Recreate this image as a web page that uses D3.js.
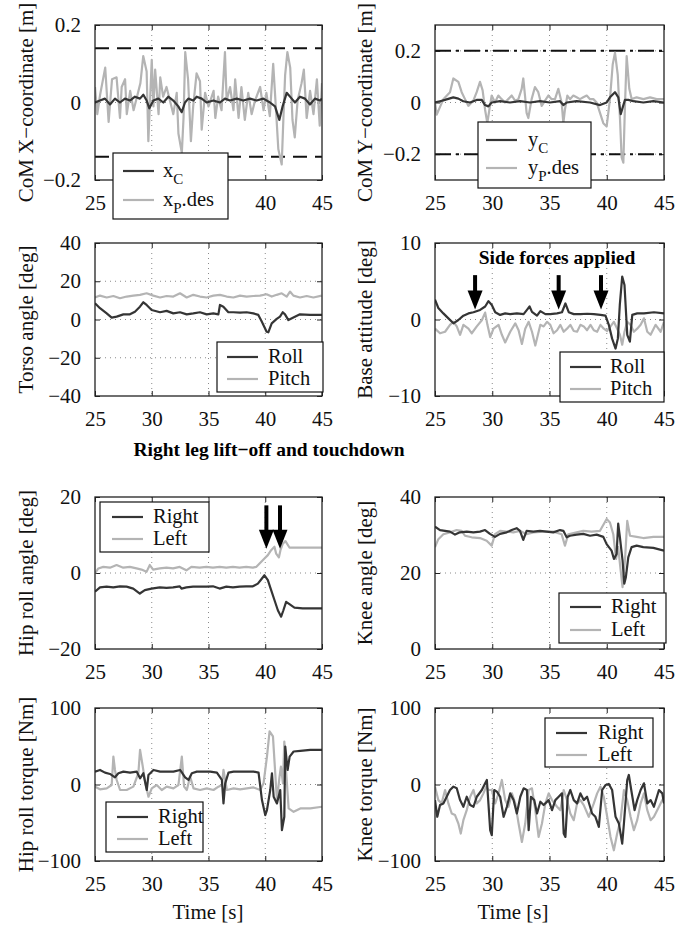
<!DOCTYPE html>
<html>
<head>
<meta charset="utf-8">
<script src="https://cdn.jsdelivr.net/npm/d3@7"></script>
<style>
  body { margin: 0; background: #fff; }
  text { font-family: "Liberation Serif", "Times New Roman", serif; }
</style>
</head>
<body>
<svg id="fig"></svg>
<script>
// ---- data (time [s], value) ----
const timeTicks = [25, 30, 35, 40, 45];

const comXC = [[25,0],[25.44,0.005],[25.88,0.01],[26.32,-0.005],[26.76,0.01],[27.2,0],[27.64,0.01],[28.08,0.005],[28.52,0.015],[28.96,0.01],[29.26,0.02],[29.55,0.005],[29.79,-0.015],[30.14,0.005],[30.58,0.01],[31.02,0],[31.46,0.015],[31.9,0.005],[32.34,-0.01],[32.64,-0.025],[32.93,0],[33.22,0.01],[33.66,0.005],[33.96,0.015],[34.4,0.01],[34.84,0],[35.43,0.005],[36.01,0],[36.45,0.01],[36.89,0.005],[37.48,0.01],[38.07,0.005],[38.66,0.01],[39.24,0.005],[39.83,0.01],[40.42,0],[40.86,-0.01],[41.24,-0.045],[41.53,-0.01],[41.89,0.025],[42.33,0.01],[42.62,0],[43.06,0.015],[43.5,0.01],[43.94,-0.005],[44.38,0.01],[44.82,0.005],[45,0.01]];
const comXP = [[25,0.04],[25.2,-0.03],[25.45,0.02],[25.9,0.09],[26.2,-0.05],[26.5,0.06],[26.9,0.065],[27.2,-0.04],[27.35,0.04],[27.65,0.06],[27.8,-0.03],[28.1,0.03],[28.4,-0.02],[28.7,0.015],[29,0.05],[29.25,0.12],[29.55,0.08],[29.7,-0.1],[30,0.11],[30.15,-0.01],[30.3,0.085],[30.6,-0.03],[30.75,0.065],[31,0.015],[31.3,0.04],[31.6,0.005],[31.9,-0.03],[32.2,0.025],[32.35,-0.08],[32.65,-0.13],[32.8,-0.04],[32.95,0.13],[33.2,0.06],[33.45,-0.1],[33.65,-0.01],[33.95,0.075],[34.25,0.055],[34.4,-0.07],[34.7,0.025],[35,-0.01],[35.45,0.03],[35.6,-0.04],[35.85,0.015],[36.15,-0.02],[36.45,0.13],[36.6,0.005],[36.9,0.04],[37.2,-0.02],[37.35,0.06],[37.65,-0.04],[37.9,0.04],[38.2,-0.045],[38.5,0.025],[38.8,-0.03],[39.1,0.005],[39.55,0.04],[39.85,-0.02],[40.1,0.025],[40.4,-0.035],[40.7,0.1],[40.95,-0.02],[41.15,-0.12],[41.45,-0.16],[41.6,-0.04],[41.75,0.07],[41.95,0.13],[42.2,0.09],[42.4,-0.045],[42.6,-0.09],[42.85,0.005],[43.2,0.05],[43.4,0.085],[43.65,-0.04],[43.95,0.03],[44.25,-0.03],[44.55,0.06],[44.8,-0.06],[45,0.05]];
const comXLimits = [-0.14, 0.14];

const comYC = [[25,0],[25.44,0.005],[25.87,0.01],[26.6,0.02],[27.04,0.015],[27.47,0.005],[28.06,0],[28.64,0.01],[29.08,0.01],[29.37,-0.01],[29.66,-0.015],[29.95,0],[30.68,0.005],[31.55,0],[32.42,0.005],[33.3,0],[34.17,0.005],[35.04,0],[35.92,0.005],[36.21,-0.01],[36.5,0],[37.37,0.005],[38.54,0],[39.41,-0.01],[39.99,0],[40.28,0.02],[40.72,0.04],[41.01,0.02],[41.22,-0.045],[41.59,0.01],[41.89,0.01],[42.32,0.005],[43.2,0],[44.07,0.005],[45,0]];
const comYP = [[25,0],[25.15,-0.047],[25.73,0.013],[26.31,0.04],[26.6,0.093],[27.04,0.08],[27.33,0.04],[27.62,0.013],[27.91,-0.013],[28.35,0.007],[28.64,0.04],[28.93,0.08],[29.16,0.047],[29.37,-0.027],[29.57,-0.08],[29.8,-0.013],[29.95,0.027],[30.24,0],[30.53,0.027],[30.82,0.013],[31.11,0],[31.4,0.013],[31.7,0.027],[31.99,0.007],[32.28,0.013],[32.57,0.053],[32.71,0.093],[32.86,0.027],[33,-0.04],[33.15,-0.06],[33.44,0.013],[33.73,0.06],[34.02,0.04],[34.32,-0.013],[34.61,0.007],[34.9,0.027],[35.19,0.013],[35.48,0.013],[35.77,0.053],[36.06,0],[36.21,-0.08],[36.35,-0.027],[36.56,0.027],[36.79,0.013],[37.08,0.027],[37.37,0.02],[37.66,0.013],[37.95,0.02],[38.25,0.027],[38.54,0.013],[38.83,0.013],[39.12,0],[39.41,-0.04],[39.7,-0.08],[39.99,-0.093],[40.28,0.013],[40.52,0.147],[40.72,0.193],[40.96,0.107],[41.16,-0.067],[41.3,-0.213],[41.45,-0.233],[41.59,-0.013],[41.74,0.18],[41.97,0.053],[42.18,0.013],[42.61,0.02],[43.2,0.013],[43.78,0.02],[44.36,0.013],[45,0.013]];
const comYLimits = [-0.2, 0.2];

const torsoRoll = [[25,8.5],[25.44,5.9],[26.03,3.2],[26.47,1],[26.91,1.5],[27.5,2.7],[28.08,2.7],[28.52,4.1],[28.96,6.7],[29.26,9],[29.55,7.6],[29.99,5],[30.73,3.8],[31.31,4.5],[31.9,3.2],[32.49,3.8],[33.08,2.7],[33.66,3.2],[34.25,3.8],[34.84,2.7],[35.43,3.2],[35.87,2.7],[36.01,7.6],[36.31,6.7],[36.75,3.8],[37.19,3.8],[37.78,3.6],[38.36,3.8],[38.95,3.2],[39.39,2.4],[39.69,-1.1],[40.12,-6.4],[40.27,-6.7],[40.57,-2],[41.01,0.3],[41.3,1.5],[41.54,3.8],[41.74,2.7],[42.04,-0.3],[42.48,1],[43.06,2.7],[43.94,2.4],[45,2.4]];
const torsoPitch = [[25,11.5],[25.44,12.5],[26.03,11.5],[26.62,12.3],[27.2,11.1],[27.79,12],[28.38,12.5],[28.96,12.9],[29.55,13.7],[30.14,12.5],[30.73,11.5],[31.31,12.3],[31.9,12],[32.49,13.7],[33.08,11.5],[33.66,12.9],[34.25,12],[34.84,11.5],[35.43,12.5],[36.01,12.9],[36.6,12],[37.19,11.5],[37.78,12.5],[38.36,12],[38.95,12.3],[39.54,12.5],[40.12,13.2],[40.57,12],[41.01,12.9],[41.45,13.7],[41.89,12],[42.18,14.6],[42.48,12.5],[43.06,11.5],[43.65,12.3],[44.24,11.5],[44.97,12.5]];

const baseRoll = [[25,2.6],[25.29,1.5],[25.73,0.8],[26.17,0.15],[26.61,-0.5],[27.04,-0.07],[27.48,0.5],[27.92,0.8],[28.36,0.95],[28.94,1.25],[29.38,1.7],[29.67,2.4],[29.96,1.9],[30.26,0.95],[30.69,0.6],[31.13,0.8],[31.57,0.7],[32.15,0.8],[32.74,0.7],[33.03,1.25],[33.26,1.7],[33.47,1],[33.91,0.5],[34.2,1.1],[34.64,0.7],[35.07,0.7],[35.66,0.8],[36.09,0.95],[36.39,2.1],[36.68,0.95],[37.12,0.7],[37.7,0.7],[38.29,0.75],[38.87,0.7],[39.45,0.6],[39.89,0.5],[40.18,-0.7],[40.47,-2.5],[40.77,-3.8],[40.97,-2.5],[41.14,1.9],[41.35,5.6],[41.55,4.5],[41.79,-2],[42.02,-2.9],[42.23,0.6],[42.66,0.8],[43.25,0.8],[44.12,0.95],[45,0.8]];
const basePitch = [[25,-1.2],[25.44,-1.8],[25.88,-1.6],[26.31,-0.7],[26.61,-0.3],[26.9,-0.9],[27.19,-2],[27.48,-0.7],[27.92,-1.2],[28.21,-1.8],[28.65,-0.9],[29.09,-0.1],[29.38,0.9],[29.58,-0.7],[29.82,-2.3],[30.11,-1.2],[30.55,-0.7],[30.84,-2],[31.13,-3],[31.57,-1.6],[32.01,-0.5],[32.3,-1.4],[32.59,-3.2],[32.88,-1.2],[33.18,-0.3],[33.47,-1.6],[33.76,-3.4],[34.2,-0.7],[34.49,-0.9],[34.78,-0.3],[35.07,-0.7],[35.36,-1.8],[35.66,-1.4],[35.95,-0.7],[36.24,-1.6],[36.53,-1.2],[36.82,-0.7],[37.12,-1.5],[37.41,-1.6],[37.7,-0.7],[37.99,-0.9],[38.28,-1.4],[38.58,-0.7],[38.87,-1.4],[39.16,-1.6],[39.45,-0.7],[39.74,-1.2],[40.04,-1.5],[40.33,-0.9],[40.62,-0.3],[40.91,-1.2],[41.15,-2],[41.35,-3.3],[41.55,-1.6],[41.79,-0.3],[42.08,-0.7],[42.37,-1.6],[42.66,-1.2],[42.96,-0.7],[43.25,0.15],[43.54,-1.6],[43.83,-2],[44.27,-0.7],[44.71,-1.6],[45,-0.3]];
const sideForceTimes = [28.5, 35.8, 39.5];
const sideForceArrow = [5.8, 1.3];   // from, to [deg]

const hipRight = [[25,-4.9],[25.44,-3.8],[26.02,-3.6],[26.61,-3.8],[27.2,-3.5],[27.78,-3.6],[28.37,-4.1],[28.95,-5.4],[29.39,-4.5],[29.98,-4.1],[30.71,-3.8],[31.3,-3.9],[31.88,-3.8],[32.47,-3.5],[32.62,-4.1],[33.05,-3.8],[33.64,-3.6],[34.22,-3.6],[34.81,-3.6],[35.39,-3.5],[35.98,-4.1],[36.57,-3.6],[37.15,-3.8],[37.74,-3.6],[38.32,-3.5],[38.91,-3.5],[39.35,-2.8],[39.64,-1.7],[39.93,-0.6],[40.23,-1.9],[40.52,-4.5],[40.81,-7.1],[41.11,-9.8],[41.4,-11.5],[41.6,-9.8],[41.84,-7.6],[42.13,-8.2],[42.57,-9.1],[43.3,-9.3],[44.18,-9.3],[45,-9.3]];
const hipLeft = [[25,-0.1],[25.29,1.2],[25.73,1.6],[26.32,1.4],[26.9,2.1],[27.49,1.4],[28.07,1.6],[28.66,1.2],[29.1,0.9],[29.54,0.3],[29.83,2.1],[30.12,0.9],[30.71,1.2],[31.3,1.4],[31.88,1.2],[32.47,1.6],[33.05,0.7],[33.49,1.6],[34.22,1.4],[34.81,1.6],[35.39,1.4],[35.98,1.6],[36.57,1.4],[37.15,1.6],[37.74,1.4],[38.32,1.6],[38.91,1.4],[39.2,1.6],[39.5,2.5],[39.93,3.8],[40.23,4.7],[40.52,6],[40.81,6.9],[40.96,5.1],[41.2,4.1],[41.34,6],[41.55,7.7],[41.78,8.4],[42.13,6.7],[42.72,6.7],[43.6,6.7],[45,6.7]];
const liftOffTimes = [40.1, 41.3];
const liftOffArrow = [17.8, 6.4];

const kneeRight = [[25,32.2],[25.44,31.3],[25.87,31.1],[26.31,30.9],[26.75,30.1],[27.18,30.7],[27.77,30.9],[28.35,30.7],[28.93,30.9],[29.37,31.3],[29.8,30.3],[30.24,29.5],[30.68,30.3],[31.26,30.7],[31.7,31.3],[32.13,31.8],[32.42,31.1],[32.71,28.7],[33,31.1],[33.59,30.9],[34.17,31.1],[34.75,30.9],[35.33,30.7],[35.92,31.3],[36.21,31.1],[36.5,29.4],[36.79,29.8],[37.37,30.1],[37.95,30.3],[38.54,29.8],[39.12,30.1],[39.7,29.5],[39.99,27.6],[40.42,25.9],[40.63,23.7],[40.86,25],[41,33],[41.15,29.4],[41.38,23.3],[41.53,17.2],[41.67,18.9],[41.88,24.1],[42.17,26.8],[42.61,27.2],[43.19,26.8],[44.07,26.6],[45,25.9]];
const kneeLeft = [[25,26.8],[25.29,28.9],[25.73,30.2],[26.31,30.7],[26.89,31.3],[27.33,31.1],[27.62,29.8],[28.2,29.4],[28.93,29.2],[29.51,28.5],[29.95,27.2],[30.24,30.2],[30.68,31.1],[31.26,30.9],[31.84,30.7],[32.42,31.1],[33,30.2],[33.59,30.7],[34.46,30.9],[35.33,30.9],[36.06,30.2],[36.35,27.2],[36.64,30.2],[37.37,30.7],[37.95,31.1],[38.68,30.9],[39.41,31.1],[39.99,34.2],[40.28,33.3],[40.57,30.2],[40.81,23.7],[41,26.8],[41.2,21.1],[41.38,16.3],[41.59,23.3],[41.79,33.7],[42.03,29.8],[42.61,29.5],[43.19,29.2],[44.07,29.5],[45,29.5]];

const hipTorqueRight = [[25,16.8],[25.44,19],[25.88,15.5],[26.32,13.8],[26.76,9.4],[27.06,14.7],[27.5,16.8],[28.09,15.5],[28.68,16.8],[28.97,8.1],[29.26,14.7],[29.56,-7.2],[29.71,12.5],[30.15,19],[30.74,16.8],[31.32,16.8],[31.91,16.8],[32.5,19],[32.94,9.4],[33.24,5.9],[33.53,14.7],[33.97,16.8],[34.56,16.8],[35.15,16.8],[35.74,15.5],[36.18,5.9],[36.32,-24.7],[36.47,1.5],[36.76,15.5],[37.21,16.8],[37.79,16.8],[38.38,16.8],[38.97,16.8],[39.41,15.5],[39.71,-20.4],[40,-40],[40.15,-33.5],[40.44,-7.2],[40.59,14.7],[40.74,-16],[41.03,-24.7],[41.32,-7.2],[41.47,-59.7],[41.68,-42.2],[41.76,49.7],[41.97,19],[42.15,36.5],[42.5,43.1],[43.09,44],[43.97,45.3],[45,45.3]];
const hipTorqueLeft = [[25,-2.8],[25.44,-6.3],[26.03,-5],[26.47,-0.7],[26.62,36.5],[26.76,19],[26.91,5.9],[27.21,-7.2],[27.79,-7.2],[28.38,-2.8],[28.82,14.7],[28.97,45.3],[29.21,23.4],[29.41,3.7],[29.71,-16],[30,-5],[30.44,-0.7],[30.88,-7.2],[31.32,-2.8],[31.91,-5],[32.35,-0.7],[32.65,36.5],[32.85,-2.8],[33.09,-7.2],[33.38,10.3],[33.68,-5],[34.26,-7.2],[34.85,-5],[35.44,-7.2],[35.88,-2.8],[36.18,-0.7],[36.32,19],[36.62,-7.2],[37.21,-5],[37.79,-6.3],[38.38,-5],[38.97,-3.8],[39.56,-7.2],[39.85,1.5],[40.15,36.5],[40.38,69.4],[40.68,62.8],[40.88,14.7],[41.03,-20.4],[41.26,10.3],[41.38,23.4],[41.56,1.5],[41.68,56.2],[41.85,14.7],[42.06,-31.3],[42.5,-35.7],[43.09,-31.3],[43.97,-31.3],[45,-29.1]];

const kneeTorqueRight = [[25,-20.4],[25.2,-42.2],[25.44,-26.9],[25.73,-24.7],[26.02,-16],[26.31,-7.2],[26.61,-2.8],[26.9,-5],[27.19,-20.4],[27.48,-29.1],[27.77,-16],[28.07,-26.9],[28.36,-29.1],[28.65,-16],[29.09,-7.2],[29.38,1.5],[29.53,5.9],[29.82,-59.7],[29.96,-66.3],[30.17,-7.2],[30.4,-9.4],[30.69,-16],[30.99,-42.2],[31.28,-29.1],[31.57,-11.6],[31.86,-20.4],[32.15,-37.9],[32.45,-16],[32.74,-5],[33.03,-7.2],[33.18,-59.7],[33.38,-16],[33.67,-20.4],[33.91,-37.9],[34.2,-22.5],[34.49,-26.9],[34.93,-20.4],[35.22,-33.5],[35.51,-20.4],[35.8,-16],[36.09,-11.6],[36.24,-64.1],[36.39,-68.5],[36.59,-16],[36.82,-7.2],[37.12,-20.4],[37.41,-24.7],[37.7,-11.6],[37.99,-20.4],[38.28,-16],[38.72,-37.9],[39.01,-42.2],[39.31,-55.4],[39.6,-7.2],[39.89,-0.7],[40.18,0.7],[40.47,-7.2],[40.77,-42.2],[41.06,-51],[41.35,-77.2],[41.5,-51],[41.79,5.9],[41.93,12.5],[42.14,-7.2],[42.43,-33.5],[42.66,-20.4],[42.96,-7.2],[43.25,1.5],[43.54,-24.7],[43.83,-20.4],[44.12,-29.1],[44.56,-7.2],[44.85,-11.6],[45,-24.7]];
const kneeTorqueLeft = [[25,-2.8],[25.29,-20.4],[25.58,-24.7],[25.88,-7.2],[26.17,-24.7],[26.46,-37.9],[26.75,-40],[27.04,-51],[27.25,-64.1],[27.48,-46.6],[27.77,-33.5],[28.07,-16],[28.36,-7.2],[28.65,-24.7],[28.94,-20.4],[29.23,-11.6],[29.47,-2.8],[29.67,-7.2],[29.96,-7.2],[30.26,-24.7],[30.55,-11.6],[30.84,5.9],[31.13,-20.4],[31.42,-29.1],[31.72,-11.6],[32.01,-24.7],[32.3,-51],[32.59,-75.1],[32.88,-51],[33.18,-7.2],[33.47,-5],[33.76,-33.5],[34.05,-68.5],[34.34,-51],[34.64,-24.7],[34.93,-11.6],[35.22,-20.4],[35.66,-29.1],[35.95,-33.5],[36.24,-7.2],[36.53,-20.4],[36.82,-37.9],[37.12,-46.6],[37.41,-24.7],[37.7,-20.4],[37.99,-26.9],[38.43,-42.2],[38.87,-24.7],[39.16,-11.6],[39.45,-2.8],[39.74,-16],[40.04,-42.2],[40.33,-68.5],[40.62,-86],[40.91,-64.1],[41.2,-46.6],[41.5,-7.2],[41.79,-20.4],[42.08,-42.2],[42.37,-59.7],[42.66,-46.6],[42.96,-24.7],[43.25,-11.6],[43.54,-33.5],[43.83,-46.6],[44.12,-42.2],[44.56,-29.1],[45,-16]];

// ---- layout ----
const DARK = "#353535", LIGHT = "#b4b4b4", FONT = "\"Liberation Serif\", \"Times New Roman\", serif";
const cols = [{x0: 95, x1: 322, labelX: 33, timeX: 208}, {x0: 435, x1: 664, labelX: 372, timeX: 513}];
const rows = [{y0: 25, y1: 180}, {y0: 243, y1: 396}, {y0: 497, y1: 649}, {y0: 708, y1: 861}];

const panels = [
  {col: 0, row: 0, yDomain: [-0.2, 0.2], yTicks: [-0.2, 0, 0.2], label: "CoM X\u2212coordinate [m]",
   series: [comXP, comXC], colors: [LIGHT, DARK], limits: comXLimits, limitDash: "14,8",
   hiddenXLabels: [30, 35],   // covered by the legend in the original
   legend: {x: 113, y: 153, w: 115, h: 66, lx: 123, tx: 163, rows: [171, 200], order: [1, 0],
            names: [["x", "C", ""], ["x", "P", ".des"]]}},
  {col: 1, row: 0, yDomain: [-0.3, 0.3], yTicks: [-0.2, 0, 0.2], label: "CoM Y\u2212coordinate [m]",
   series: [comYP, comYC], colors: [LIGHT, DARK], limits: comYLimits, limitDash: "16,5,3,5",
   legend: {x: 478, y: 122, w: 113, h: 66, lx: 486, tx: 528, rows: [140, 168], order: [1, 0],
            names: [["y", "C", ""], ["y", "P", ".des"]]}},
  {col: 0, row: 1, yDomain: [-40, 40], yTicks: [-40, -20, 0, 20, 40], label: "Torso angle [deg]",
   series: [torsoPitch, torsoRoll], colors: [LIGHT, DARK],
   legend: {x: 217, y: 342, w: 106, h: 50, lx: 227, tx: 268, rows: [357, 379], order: [1, 0],
            names: [["Roll"], ["Pitch"]]}},
  {col: 1, row: 1, yDomain: [-10, 10], yTicks: [-10, 0, 10], label: "Base attitude [deg]",
   series: [basePitch, baseRoll], colors: [LIGHT, DARK],
   arrows: {times: sideForceTimes, span: sideForceArrow},
   legend: {x: 560, y: 352, w: 104, h: 50, lx: 570, tx: 610, rows: [367, 389], order: [1, 0],
            names: [["Roll"], ["Pitch"]]}},
  {col: 0, row: 2, yDomain: [-20, 20], yTicks: [-20, 0, 20], label: "Hip roll angle [deg]",
   series: [hipLeft, hipRight], colors: [LIGHT, DARK],
   arrows: {times: liftOffTimes, span: liftOffArrow},
   legend: {x: 100, y: 502, w: 109, h: 50, lx: 112, tx: 153, rows: [517, 539], order: [1, 0],
            names: [["Right"], ["Left"]]}},
  {col: 1, row: 2, yDomain: [0, 40], yTicks: [0, 20, 40], label: "Knee angle [deg]",
   series: [kneeLeft, kneeRight], colors: [LIGHT, DARK],
   legend: {x: 559, y: 593, w: 107, h: 50, lx: 570, tx: 611, rows: [607, 630], order: [1, 0],
            names: [["Right"], ["Left"]]}},
  {col: 0, row: 3, yDomain: [-100, 100], yTicks: [-100, 0, 100], label: "Hip roll torque [Nm]",
   series: [hipTorqueLeft, hipTorqueRight], colors: [LIGHT, DARK],
   legend: {x: 106, y: 802, w: 97, h: 50, lx: 117, tx: 158, rows: [817, 839], order: [1, 0],
            names: [["Right"], ["Left"]]}},
  {col: 1, row: 3, yDomain: [-100, 100], yTicks: [-100, 0, 100], label: "Knee torque [Nm]",
   series: [kneeTorqueLeft, kneeTorqueRight], colors: [LIGHT, DARK],
   legend: {x: 545, y: 718, w: 108, h: 49, lx: 556, tx: 598, rows: [733, 755], order: [1, 0],
            names: [["Right"], ["Left"]]}}
];

const svg = d3.select("#fig").attr("width", 687).attr("height", 927);
const fmt = d => (d < 0 ? "\u2212" : "") + Math.abs(d);

panels.forEach((p, i) => drawPanel(p, i));

// figure-level annotations
svg.append("text").attr("x", 269).attr("y", 456).attr("text-anchor", "middle")
   .attr("font-size", 19.5).attr("font-weight", "bold").text("Right leg lift\u2212off and touchdown");
svg.append("text").attr("x", 557).attr("y", 264).attr("text-anchor", "middle")
   .attr("font-size", 19.5).attr("font-weight", "bold").text("Side forces applied");
cols.forEach(c => {
  svg.append("text").attr("x", c.timeX).attr("y", 919).attr("text-anchor", "middle")
     .attr("font-size", 21).attr("fill", "#111").text("Time [s]");
});

function drawPanel(p, i) {
  const col = cols[p.col], row = rows[p.row];
  const x = d3.scaleLinear().domain([25, 45]).range([col.x0, col.x1]);
  const y = d3.scaleLinear().domain(p.yDomain).range([row.y1, row.y0]);
  const g = svg.append("g");

  g.append("clipPath").attr("id", "clip" + i)
   .append("rect").attr("x", col.x0).attr("y", row.y0)
   .attr("width", col.x1 - col.x0).attr("height", row.y1 - row.y0);

  // dotted grid
  g.selectAll(".vgrid").data(timeTicks.slice(1, -1)).join("line")
   .attr("x1", d => x(d)).attr("x2", d => x(d)).attr("y1", row.y0).attr("y2", row.y1)
   .attr("stroke", "#8a8a8a").attr("stroke-width", 1).attr("stroke-dasharray", "1,4");
  g.selectAll(".hgrid").data(p.yTicks.filter(t => t > p.yDomain[0] && t < p.yDomain[1])).join("line")
   .attr("x1", col.x0).attr("x2", col.x1).attr("y1", d => y(d)).attr("y2", d => y(d))
   .attr("stroke", "#8a8a8a").attr("stroke-width", 1).attr("stroke-dasharray", "1,4");

  // axes (ticks pointing inward, MATLAB style)
  const bottom = g.append("g").attr("transform", `translate(0,${row.y1})`)
   .call(d3.axisBottom(x).tickValues(timeTicks).tickSizeInner(-5).tickSizeOuter(0).tickPadding(15).tickFormat(fmt));
  const left = g.append("g").attr("transform", `translate(${col.x0},0)`)
   .call(d3.axisLeft(y).tickValues(p.yTicks).tickSizeInner(-5).tickSizeOuter(0).tickPadding(14).tickFormat(fmt));
  g.append("g").attr("transform", `translate(0,${row.y0})`)
   .call(d3.axisTop(x).tickValues(timeTicks).tickSizeInner(-5).tickSizeOuter(0).tickFormat(""));
  g.append("g").attr("transform", `translate(${col.x1},0)`)
   .call(d3.axisRight(y).tickValues(p.yTicks).tickSizeInner(-5).tickSizeOuter(0).tickFormat(""));
  g.selectAll(".domain").remove();
  g.selectAll(".tick line").attr("stroke", "#222");
  [bottom, left].forEach(a => a.attr("font-family", FONT).attr("font-size", 21)
    .selectAll("text").attr("fill", "#111"));
  if (p.hiddenXLabels) {
    bottom.selectAll(".tick text").filter(d => p.hiddenXLabels.includes(d)).remove();
  }

  // limit lines
  if (p.limits) {
    g.selectAll(".limit").data(p.limits).join("line")
     .attr("x1", col.x0).attr("x2", col.x1).attr("y1", d => y(d)).attr("y2", d => y(d))
     .attr("stroke", "#111").attr("stroke-width", 2).attr("stroke-dasharray", p.limitDash);
  }

  // series
  const line = d3.line().x(d => x(d[0])).y(d => y(d[1]));
  const plot = g.append("g").attr("clip-path", `url(#clip${i})`);
  p.series.forEach((s, k) => {
    plot.append("path").datum(s).attr("d", line).attr("fill", "none")
        .attr("stroke", p.colors[k]).attr("stroke-width", 2.2).attr("stroke-linejoin", "round");
  });

  // arrows
  if (p.arrows) {
    p.arrows.times.forEach(t => {
      const ax = x(t), yTop = y(p.arrows.span[0]), yTip = y(p.arrows.span[1]);
      const head = 19, half = 7.5;
      g.append("line").attr("x1", ax).attr("x2", ax).attr("y1", yTop).attr("y2", yTip - head + 2)
       .attr("stroke", "#000").attr("stroke-width", 4);
      g.append("path").attr("d", `M${ax - half},${yTip - head}L${ax + half},${yTip - head}L${ax},${yTip}Z`)
       .attr("fill", "#000");
    });
  }

  // box
  g.append("rect").attr("x", col.x0).attr("y", row.y0)
   .attr("width", col.x1 - col.x0).attr("height", row.y1 - row.y0)
   .attr("fill", "none").attr("stroke", "#222").attr("stroke-width", 1.3);

  // y label
  g.append("text").attr("transform", `translate(${col.labelX},${(row.y0 + row.y1) / 2}) rotate(-90)`)
   .attr("text-anchor", "middle").attr("font-size", 21).attr("fill", "#111").text(p.label);

  // legend
  const L = p.legend;
  const lg = g.append("g");
  lg.append("rect").attr("x", L.x).attr("y", L.y).attr("width", L.w).attr("height", L.h)
    .attr("fill", "#fff").attr("stroke", "#111").attr("stroke-width", 1.2);
  L.names.forEach((n, r) => {
    const ry = L.rows[r];
    lg.append("line").attr("x1", L.lx).attr("x2", L.lx + 31).attr("y1", ry).attr("y2", ry)
      .attr("stroke", p.colors[L.order[r]]).attr("stroke-width", 2.2);
    const t = lg.append("text").attr("x", L.tx).attr("y", ry + 6).attr("font-size", 20.5).attr("fill", "#111");
    t.append("tspan").text(n[0]);
    if (n.length > 1) {
      t.append("tspan").attr("font-size", 15).attr("dy", 7).text(n[1]);
      if (n[2]) t.append("tspan").attr("dy", -7).text(n[2]);
    }
  });
}
</script>
</body>
</html>
